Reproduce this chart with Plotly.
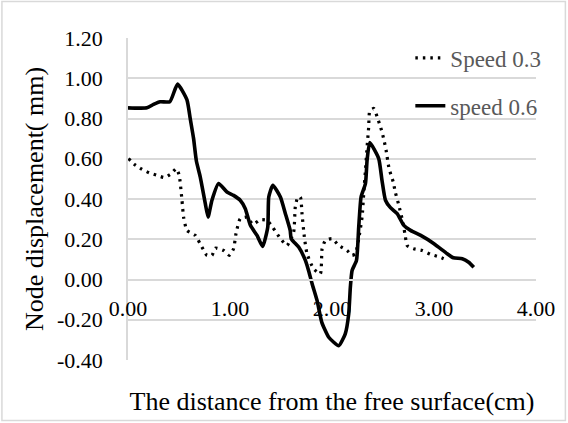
"""Node displacement vs distance from the free surface."""

import plotly.graph_objects as go

# speed 0.3 (dotted)
dist_03 = [0.005, 0.061, 0.136, 0.208, 0.283, 0.355, 0.424, 0.473, 0.502, 0.529,
           0.545, 0.578, 0.66, 0.725, 0.774, 0.823, 0.856, 0.937, 0.993, 1.035,
           1.059, 1.10, 1.167, 1.226, 1.297, 1.363, 1.418, 1.494, 1.559, 1.624,
           1.64, 1.663, 1.69, 1.706, 1.729, 1.755, 1.82, 1.886, 1.903, 1.935,
           2.0, 2.066, 2.148, 2.197, 2.23, 2.262, 2.295, 2.311, 2.328, 2.344,
           2.36, 2.37, 2.41, 2.443, 2.468, 2.49, 2.51, 2.53, 2.56, 2.60,
           2.62, 2.655, 2.698, 2.72, 2.737, 2.80, 2.884, 2.966, 3.047, 3.12]
disp_03 = [0.601, 0.573, 0.548, 0.53, 0.518, 0.507, 0.526, 0.551, 0.518, 0.394,
           0.31, 0.244, 0.219, 0.161, 0.12, 0.12, 0.156, 0.144, 0.12, 0.153,
           0.228, 0.302, 0.31, 0.274, 0.297, 0.294, 0.26, 0.203, 0.169, 0.236,
           0.36, 0.407, 0.41, 0.327, 0.211, 0.128, 0.053, 0.028, 0.153, 0.194,
           0.203, 0.169, 0.144, 0.12, 0.128, 0.203, 0.31, 0.427, 0.543, 0.659,
           0.76, 0.837, 0.85, 0.808, 0.77, 0.734, 0.692, 0.643, 0.55, 0.485,
           0.435, 0.369, 0.277, 0.211, 0.169, 0.153, 0.144, 0.125, 0.113, 0.098]

# speed 0.6 (solid)
dist_06 = [0.0, 0.185, 0.25, 0.316, 0.41, 0.486, 0.578, 0.61, 0.643, 0.67,
           0.708, 0.758, 0.785, 0.823, 0.888, 0.97, 1.035, 1.10, 1.15, 1.20,
           1.265, 1.32, 1.37, 1.38, 1.42, 1.494, 1.543, 1.59, 1.60, 1.673,
           1.739, 1.77, 1.805, 1.854, 1.90, 1.968, 2.066, 2.13, 2.164, 2.18,
           2.197, 2.24, 2.262, 2.285, 2.328, 2.344, 2.37, 2.458, 2.49, 2.524,
           2.573, 2.639, 2.704, 2.77, 2.87, 3.0, 3.13, 3.19, 3.277, 3.34, 3.39]
disp_06 = [0.853, 0.853, 0.87, 0.883, 0.883, 0.971, 0.892, 0.80, 0.70, 0.59,
           0.51, 0.377, 0.31, 0.394, 0.477, 0.435, 0.418, 0.394, 0.352, 0.269,
           0.219, 0.164, 0.26, 0.41, 0.468, 0.41, 0.327, 0.244, 0.203, 0.161,
           0.095, 0.045, -0.021, -0.105, -0.213, -0.287, -0.329, -0.27, -0.171, -0.038,
           0.045, 0.095, 0.26, 0.41, 0.477, 0.593, 0.68, 0.601, 0.493, 0.394,
           0.357, 0.327, 0.269, 0.244, 0.219, 0.178, 0.128, 0.108, 0.103, 0.086, 0.061]

# axis ticks (hyphen minus like the original)
x_ticks = [0, 1, 2, 3, 4]
x_labels = ["0.00", "1.00", "2.00", "3.00", "4.00"]
y_ticks = [-0.4, -0.2, 0.0, 0.2, 0.4, 0.6, 0.8, 1.0, 1.2]
y_labels = ["-0.40", "-0.20", "0.00", "0.20", "0.40", "0.60", "0.80", "1.00", "1.20"]

FONT = "Liberation Serif"
GRID = "#d9d9d9"

fig = go.Figure()
fig.add_trace(
    go.Scatter(
        x=dist_03,
        y=disp_03,
        mode="lines",
        name="Speed 0.3",
        legendgroup="a",
        line=dict(color="black", width=3.2, dash="2.5px,5px", shape="spline", smoothing=0.5),
    )
)
fig.add_trace(
    go.Scatter(
        x=dist_06,
        y=disp_06,
        mode="lines",
        name="speed 0.6",
        legendgroup="b",
        line=dict(color="black", width=3.6, shape="spline", smoothing=0.5),
    )
)

fig.update_xaxes(
    range=[0, 4],
    tickvals=x_ticks,
    ticktext=x_labels,
    showgrid=False,
    zeroline=False,
    showline=True,
    linecolor=GRID,
    linewidth=1.5,
    anchor="free",
    position=0.25,
    ticks="",
    ticklabelstandoff=9,
    tickfont=dict(family=FONT, size=22, color="black"),
    title=dict(text="The distance from the free surface(cm)", font=dict(family=FONT, size=26, color="black"), standoff=71),
)
fig.update_yaxes(
    range=[-0.4, 1.2],
    tickvals=y_ticks,
    ticktext=y_labels,
    showgrid=True,
    gridcolor=GRID,
    gridwidth=1.5,
    zeroline=False,
    showline=True,
    linecolor=GRID,
    linewidth=1.5,
    ticks="",
    ticklabelstandoff=19,
    tickfont=dict(family=FONT, size=22, color="black"),
    title=dict(text="Node displacement( mm)", font=dict(family=FONT, size=26, color="black"), standoff=6),
)

fig.update_layout(
    width=568,
    height=423,
    template="plotly_white",
    plot_bgcolor="white",
    paper_bgcolor="white",
    margin=dict(l=128, r=32, t=38, b=63, autoexpand=False),
    showlegend=True,
    legend=dict(
        x=0.692,
        y=1.005,
        xanchor="left",
        yanchor="top",
        bgcolor="rgba(0,0,0,0)",
        font=dict(family=FONT, size=23, color="#595959"),
        tracegroupgap=15,
    ),
    shapes=[
        dict(type="rect", xref="paper", yref="paper", x0=-0.309, x1=1.072, y0=-0.188, y1=1.113,
             line=dict(color=GRID, width=1.5), layer="below"),
    ],
)

fig.write_html(
    "out.html",
    config={"displayModeBar": False},
    post_script="document.body.style.margin='0';",
)
